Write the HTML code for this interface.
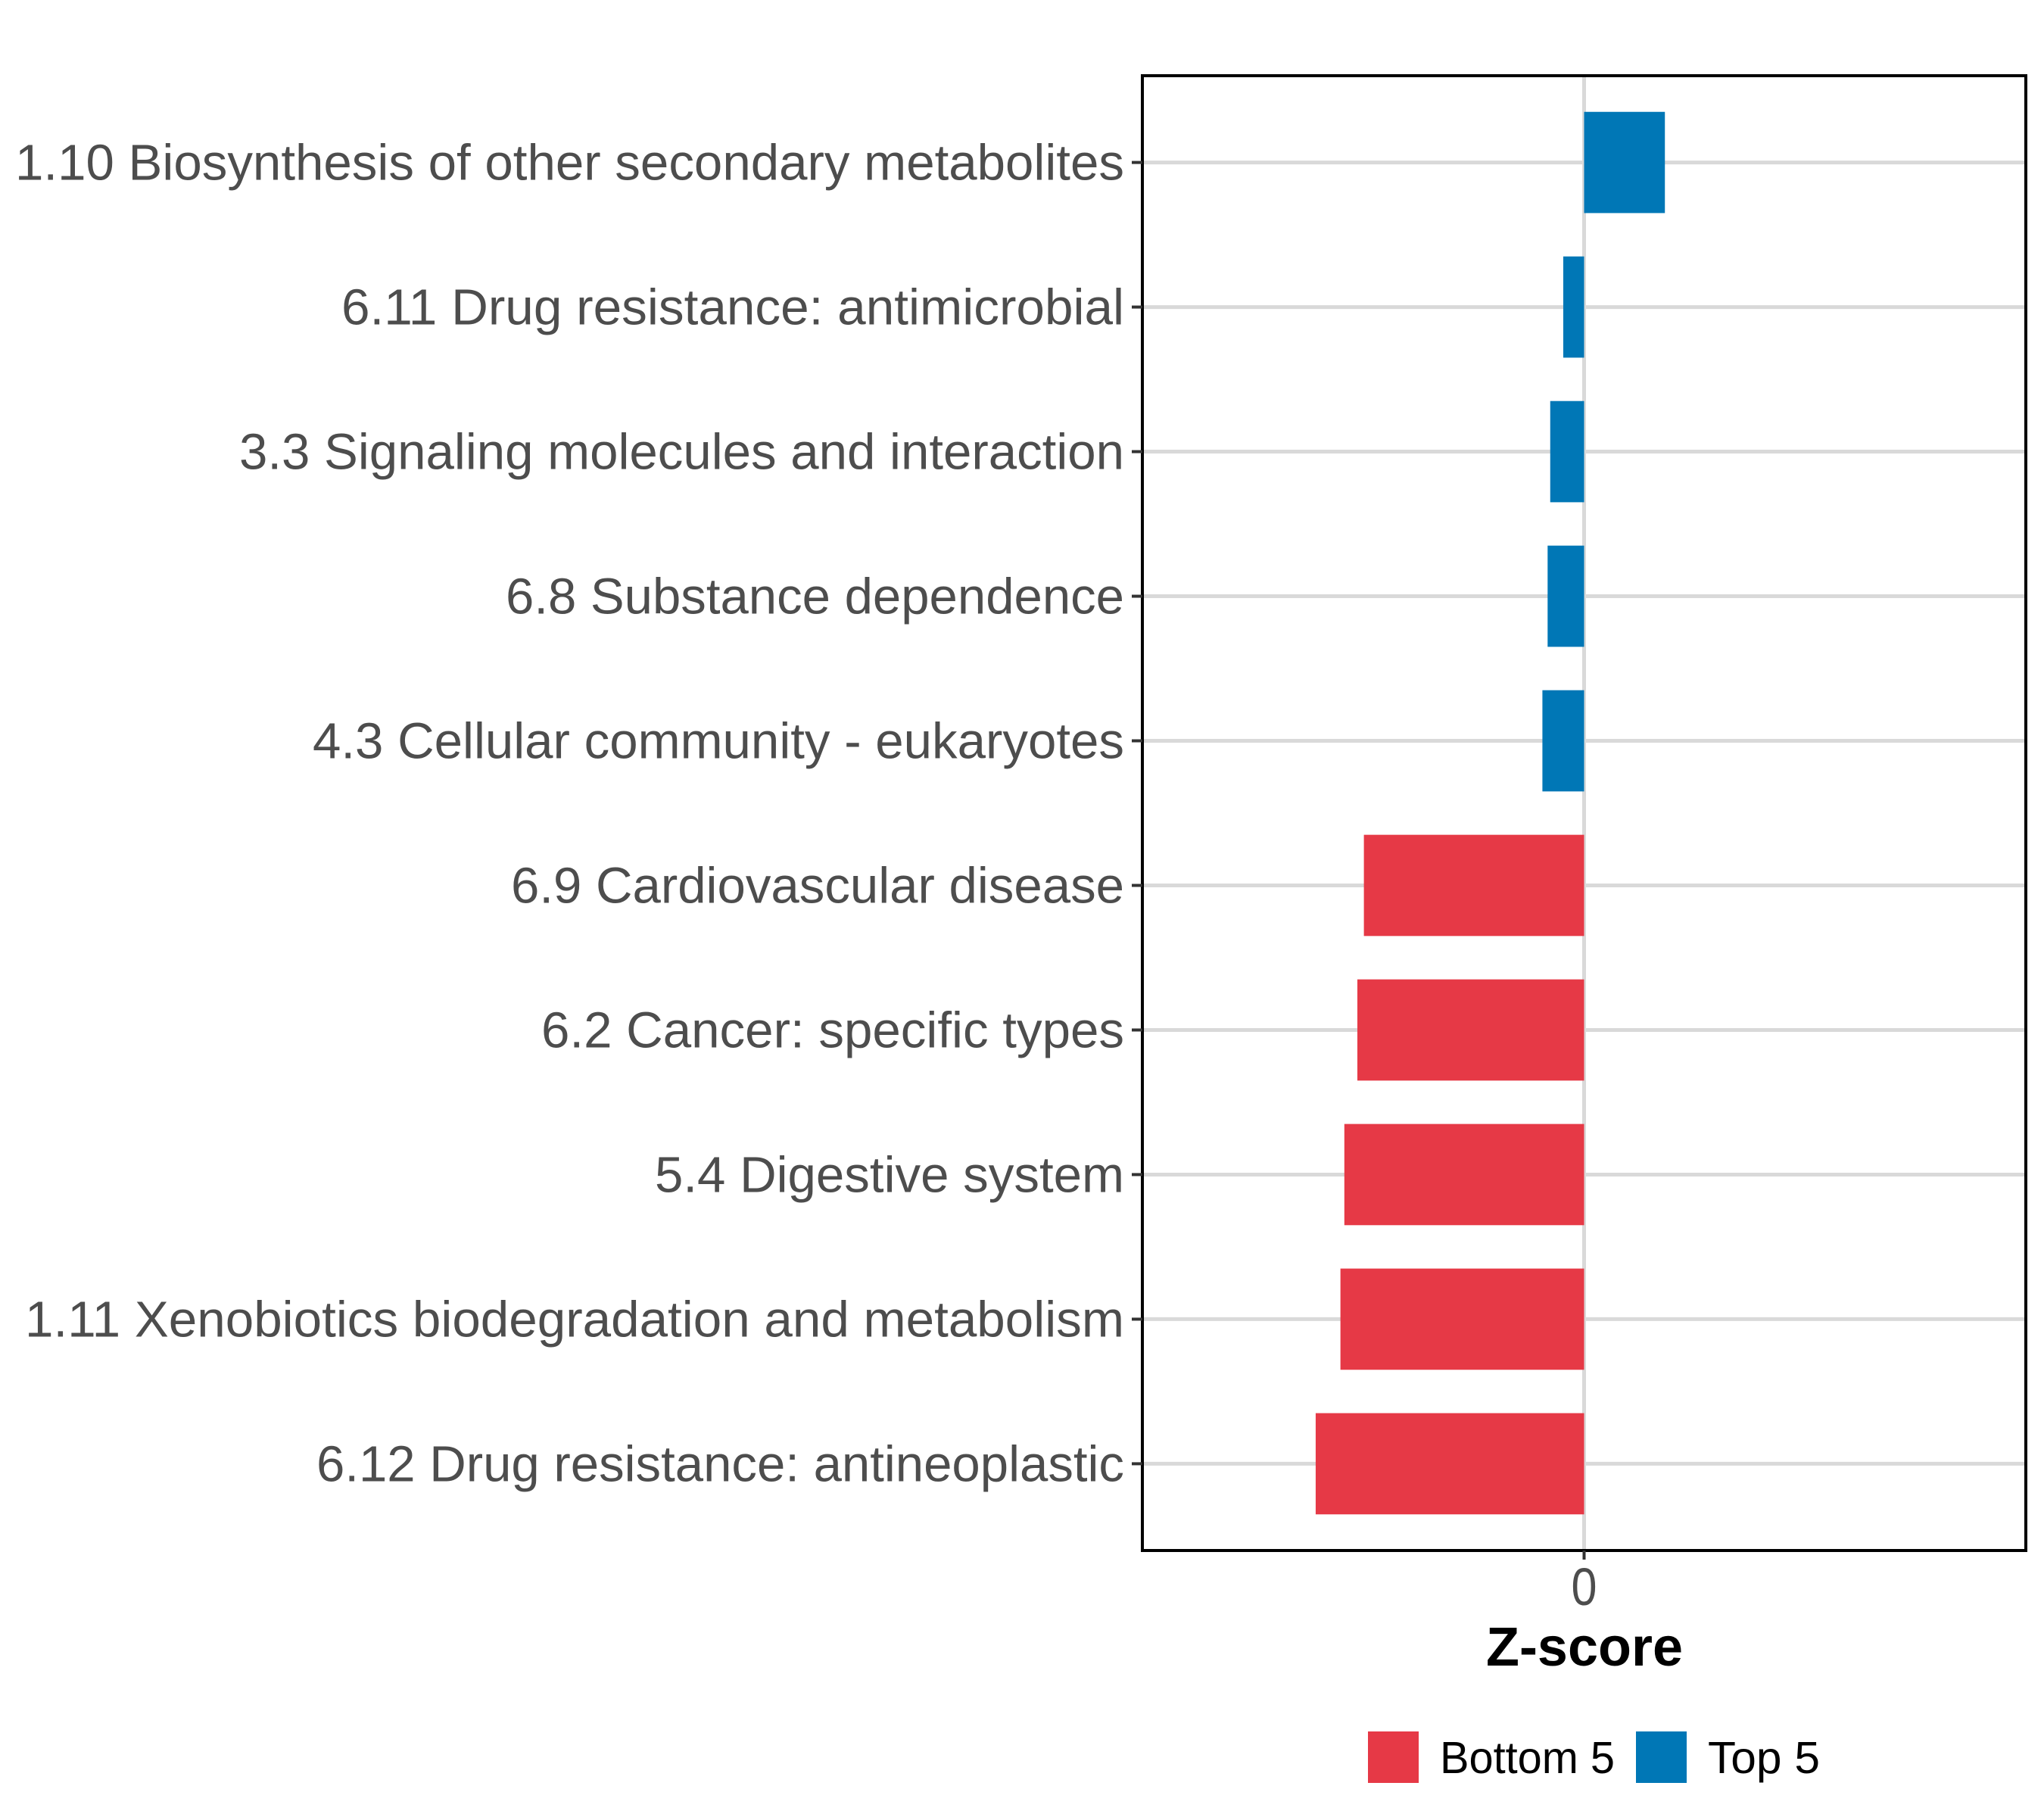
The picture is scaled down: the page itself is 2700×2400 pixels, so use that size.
<!DOCTYPE html>
<html><head><meta charset="utf-8"><style>
html,body{margin:0;padding:0;background:#fff;}
svg{display:block;font-family:"Liberation Sans",Arial,sans-serif;}
</style></head><body>
<svg id="chart" width="2700" height="2400" viewBox="0 0 2700 2400" xmlns="http://www.w3.org/2000/svg">
<rect x="0" y="0" width="2700" height="2400" fill="#fff"/>
<g id="grid"></g>
<g id="bars"></g>
<rect x="1509" y="100" width="1167" height="1948" fill="none" stroke="#000" stroke-width="4"/>
<g id="ylabels"></g>
<g id="xticks"></g>
<text x="2093" y="2200" text-anchor="middle" font-size="72" font-weight="bold" fill="#000" textLength="260" lengthAdjust="spacingAndGlyphs">Z-score</text>
<g>
<rect x="1807" y="2287" width="67" height="68" fill="#E63946"/>
<text x="1902" y="2342" font-size="59" fill="#000" textLength="231" lengthAdjust="spacingAndGlyphs">Bottom 5</text>
<rect x="2161" y="2287" width="67" height="68" fill="#0077B6"/>
<text x="2256" y="2342" font-size="59" fill="#000" textLength="148" lengthAdjust="spacingAndGlyphs">Top 5</text>
</g>
</svg>
<script>
const categories = ["1.10 Biosynthesis of other secondary metabolites","6.11 Drug resistance: antimicrobial","3.3 Signaling molecules and interaction","6.8 Substance dependence","4.3 Cellular community - eukaryotes","6.9 Cardiovascular disease","6.2 Cancer: specific types","5.4 Digestive system","1.11 Xenobiotics biodegradation and metabolism","6.12 Drug resistance: antineoplastic"];
const zScores = [0.62,-0.16,-0.26,-0.28,-0.32,-1.69,-1.74,-1.84,-1.87,-2.06];
const groups = ["Top 5","Top 5","Top 5","Top 5","Top 5","Bottom 5","Bottom 5","Bottom 5","Bottom 5","Bottom 5"];
const labelWidths = [1465,1034,1169,817,1072,810,770,620,1452,1067];
const xTicks = [0];
const xTickLabels = ["0"];

const NS="http://www.w3.org/2000/svg";
const PL=1509,PR=2676,PT=100,PB=2048;
const XMIN=-3.39,XMAX=3.39;
function xs(v){return PL+(v-XMIN)/(XMAX-XMIN)*(PR-PL);}
const n=categories.length;
const band=(PB-PT)/(n+0.2);
function ys(i){return PT+band*(0.6+i);}
const colors={"Top 5":"#0077B6","Bottom 5":"#E63946"};
function mk(tag,attrs,parent){const e=document.createElementNS(NS,tag);for(const k in attrs)e.setAttribute(k,attrs[k]);parent.appendChild(e);return e;}
const grid=document.getElementById('grid'),bars=document.getElementById('bars'),yl=document.getElementById('ylabels'),xt=document.getElementById('xticks');
for(let i=0;i<n;i++){
  const g=mk('line',{x1:PL,x2:PR,y1:ys(i),y2:ys(i),stroke:'#d9d9d9','stroke-width':5},grid);
  
  
}
xTicks.forEach((t,j)=>{
  const g=mk('line',{x1:xs(t),x2:xs(t),y1:PT,y2:PB,stroke:'#d9d9d9','stroke-width':5},grid);
  
  
  const tk=mk('line',{x1:xs(t),x2:xs(t),y1:PB,y2:PB+12,stroke:'#333','stroke-width':4},xt);
  
  
  const tl=mk('text',{x:xs(t),y:2120,'text-anchor':'middle','font-size':70,fill:'#4d4d4d',textLength:34,lengthAdjust:'spacingAndGlyphs'},xt);
  tl.textContent=xTickLabels[j];
  
  
});
const bh=band*0.7;
for(let i=0;i<n;i++){
  const v=zScores[i];
  const x0=Math.min(xs(0),xs(v)),w=Math.abs(xs(v)-xs(0));
  const r=mk('rect',{x:x0,y:ys(i)-bh/2,width:w,height:bh,fill:colors[groups[i]]},bars);
  
  
  const tk=mk('line',{x1:PL-14,x2:PL,y1:ys(i),y2:ys(i),stroke:'#333','stroke-width':4},yl);
  
  
  const t=mk('text',{x:1485,y:ys(i)+23,'text-anchor':'end','font-size':67,fill:'#4d4d4d',textLength:labelWidths[i],lengthAdjust:'spacingAndGlyphs'},yl);
  t.textContent=categories[i];
  
  
}
</script>
</body></html>
